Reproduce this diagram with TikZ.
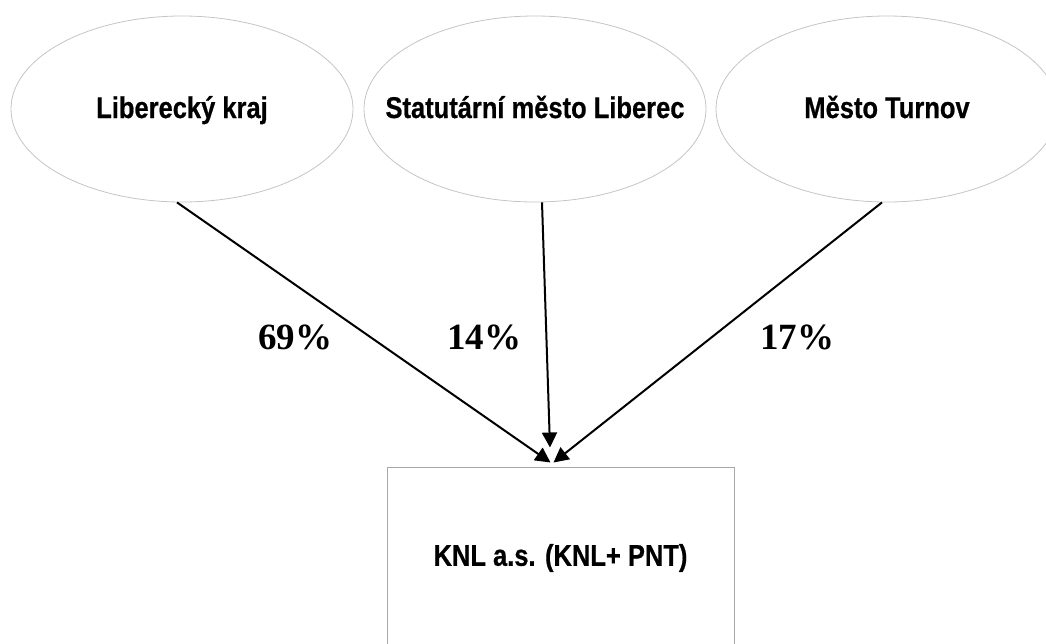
\documentclass[tikz,border=0pt]{standalone}
\usepackage{fontspec}
\setmainfont{Liberation Serif}
\newfontfamily\boxfont[FakeStretch=0.85, FakeBold=0.6]{Liberation Sans}
\usetikzlibrary{positioning, calc, shapes, arrows.meta}

\definecolor{ovalgray}{HTML}{C4C4C4}
\definecolor{boxgray}{HTML}{A8A8A8}

\newcommand{\owntext}[1]{\makebox[0pt]{#1}}

\tikzset{
	owner/.style={ellipse, draw=ovalgray, line width=0.8pt, inner sep=0pt,
		minimum width=342pt, minimum height=186pt,
		text height=24pt, text depth=6pt,
		font=\boxfont\bfseries\fontsize{30}{33}\selectfont},
	company/.style={rectangle, draw=boxgray, line width=1pt, inner sep=0pt,
		minimum width=347pt, minimum height=182pt,
		font=\boxfont\bfseries\fontsize{30}{33}\selectfont},
	share/.style={font=\bfseries\fontsize{37}{40}\selectfont},
	arr/.style={-{Triangle[length=15pt, width=15pt]}, line width=2pt}
}

\begin{document}
\begin{tikzpicture}[x=1pt, y=-1pt]
			\useasboundingbox (0,0) rectangle (1046,643);

			\node[owner] (kraj)   at (182, 109)  {\owntext{Liberecký kraj}};
			\node[owner] (mesto)  at (535, 109)  {\owntext{Statutární město Liberec}};
			\node[owner] (turnov) at (887, 109)  {\owntext{Město Turnov}};
			\node[company] (knl)  at (560.5, 558) {KNL a.s. (KNL+ PNT)};

			\coordinate (hit) at ([xshift=-10pt, yshift=4pt]knl.north);

			\node[share] (p69) at (295, 337) {69\%};
			\node[share] (p14) at (484, 337) {14\%};
			\node[share] (p17) at (797, 337) {17\%};

			\draw[arr] ([xshift=-5pt]kraj.south) -- (hit);
			\draw[arr, shorten >=15pt] ([xshift=7pt]mesto.south) -- (hit);
			\draw[arr] ([xshift=-5pt]turnov.south) -- ([xshift=3pt]hit);
		\end{tikzpicture}
\end{document}
